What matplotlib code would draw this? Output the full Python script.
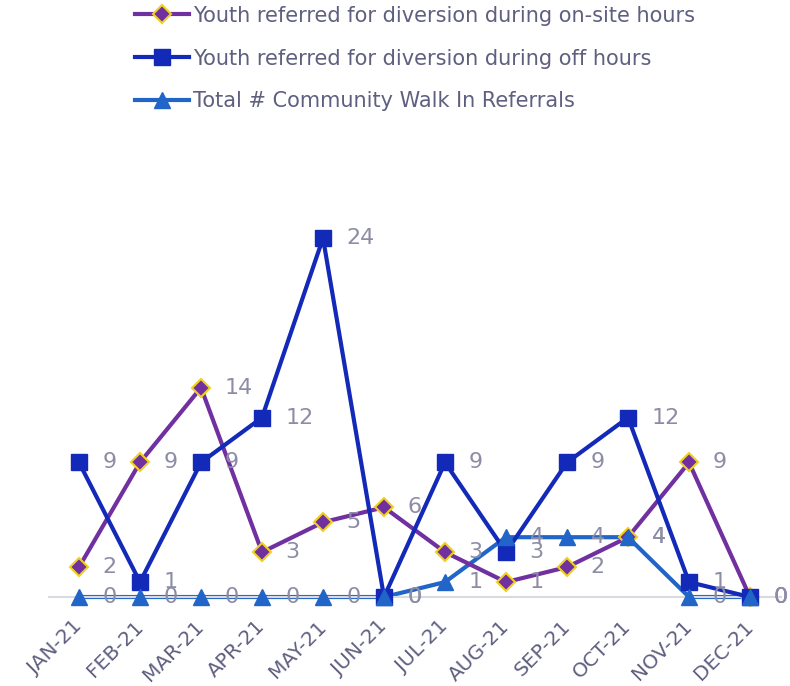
import numpy as np
import matplotlib
matplotlib.use('Agg')
import matplotlib.pyplot as plt
from matplotlib.lines import Line2D

months = ['JAN-21', 'FEB-21', 'MAR-21', 'APR-21', 'MAY-21', 'JUN-21',
          'JUL-21', 'AUG-21', 'SEP-21', 'OCT-21', 'NOV-21', 'DEC-21']
onsite = [2, 9, 14, 3, 5, 6, 3, 1, 2, 4, 9, 0]
offhours = [9, 1, 9, 12, 24, 0, 9, 3, 9, 12, 1, 0]
walkin = [0, 0, 0, 0, 0, 0, 1, 4, 4, 4, 0, 0]

names = ['Youth referred for diversion during on-site hours',
         'Youth referred for diversion during off hours',
         'Total # Community Walk In Referrals']

PURPLE = '#7030a0'
DARK = '#1329b8'
LIGHT = '#2165c8'
LABEL = '#8c8ca6'
TEXT = '#5f5f80'

fig = plt.figure(figsize=(7.9, 6.86), dpi=100)
ax = fig.add_axes([0.0614, 0.1297, 0.9266, 0.545])

x = np.arange(len(months))

ax.plot(x, onsite, color=PURPLE, lw=3, marker='D', ms=9,
        mfc=PURPLE, mec='#f0d020', mew=1.5, clip_on=False, zorder=3)
ax.plot(x, offhours, color=DARK, lw=3, marker='s', ms=11.5,
        mfc=DARK, mec=DARK, clip_on=False, zorder=4)
# walk-in line sits under the axis line, its markers on top
ax.plot(x, walkin, color=LIGHT, lw=3, clip_on=False, zorder=2)
ax.plot(x, walkin, ls='none', marker='^', ms=12, mfc=LIGHT, mec=LIGHT,
        clip_on=False, zorder=5)

# data labels to the right of each point
for series in (onsite, offhours, walkin):
    for xi, v in zip(x, series):
        ax.annotate(str(v), (xi, v), xytext=(17, 0), textcoords='offset points',
                    ha='left', va='center', fontsize=16, color=LABEL,
                    zorder=6, annotation_clip=False)

ax.set_xlim(-0.5, len(months) - 0.5)
ax.set_ylim(0, 25)
ax.set_xticks(x)
ax.set_xticklabels(months, rotation=45, ha='right', va='center',
                   rotation_mode='anchor', fontsize=14.5, color=TEXT)
ax.tick_params(axis='x', length=0, pad=19)
ax.set_yticks([])
for s in ['top', 'right', 'left']:
    ax.spines[s].set_visible(False)
ax.spines['bottom'].set_color('#d9d9e0')
ax.spines['bottom'].set_linewidth(1.5)
ax.spines['bottom'].set_zorder(2.5)

handles = [
    Line2D([], [], color=PURPLE, lw=3, marker='D', ms=9, mfc=PURPLE,
           mec='#f0d020', mew=1.5),
    Line2D([], [], color=DARK, lw=3, marker='s', ms=11.5, mfc=DARK, mec=DARK),
    Line2D([], [], color=LIGHT, lw=3, marker='^', ms=12, mfc=LIGHT, mec=LIGHT),
]
fig.legend(handles, names, loc='upper left', bbox_to_anchor=(0.16, 1.004),
           frameon=False, fontsize=15, labelcolor=TEXT, handlelength=2.6,
           handletextpad=0.2, labelspacing=1.1, borderaxespad=0)

fig.savefig('out.png', dpi=100)
